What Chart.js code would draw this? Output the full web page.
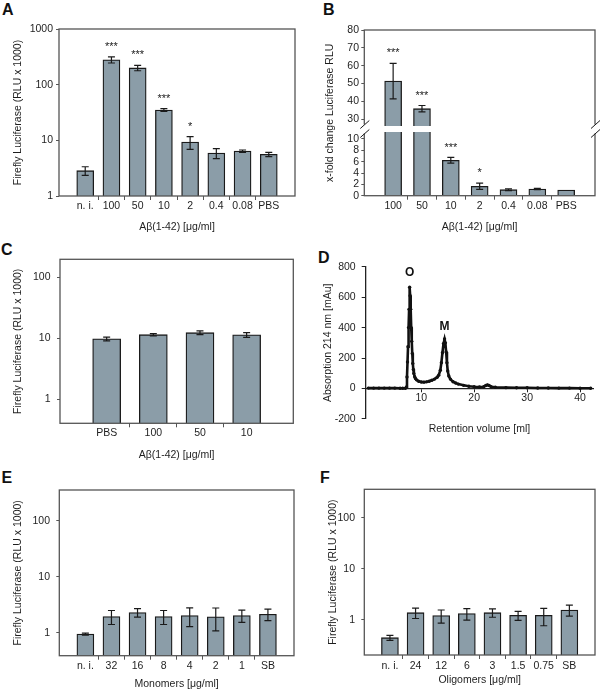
<!DOCTYPE html>
<html>
<head>
<meta charset="utf-8">
<script src="https://cdn.jsdelivr.net/npm/chart.js@4.4.1/dist/chart.umd.min.js"></script>
<style>
  body { margin: 0; background: #fff; width: 600px; height: 690px; position: relative; overflow: hidden; }
  canvas { position: absolute; left: 0; top: 0; }
  .lab { position: absolute; font: bold 16px "Liberation Sans", Arial, sans-serif; line-height: 16px; color: #111; }
</style>
</head>
<body>
<div class="lab" style="left:2px;top:1.5px">A</div>
<div class="lab" style="left:323px;top:2px">B</div>
<div class="lab" style="left:1px;top:241.5px">C</div>
<div class="lab" style="left:318px;top:250px">D</div>
<div class="lab" style="left:1.5px;top:470px">E</div>
<div class="lab" style="left:320px;top:470px">F</div>
<canvas id="chartA" width="600" height="690"></canvas>
<canvas id="chartB" width="600" height="690"></canvas>
<canvas id="chartC" width="600" height="690"></canvas>
<canvas id="chartD" width="600" height="690"></canvas>
<canvas id="chartE" width="600" height="690"></canvas>
<canvas id="chartF" width="600" height="690"></canvas>
<script>
// A: luciferase vs Abeta dose (log)
const catsA = ['n. i.', '100', '50', '10', '2', '0.4', '0.08', 'PBS'];
const valsA = [2.85, 280, 200, 35, 9.3, 5.9, 6.4, 5.6];
const errA = [0.5, 35, 22, 2, 2.4, 1.2, 0.3, 0.5];
const starsA = ['', '***', '***', '***', '*', '', '', ''];
const ticksA = [1, 10, 100, 1000];

// B: x-fold change, broken axis
const catsB = ['100', '50', '10', '2', '0.4', '0.08', 'PBS'];
const valsB = [51.3, 35.8, 6.24, 1.66, 1.06, 1.18, 1.0];
const errB = [10, 1.8, 0.5, 0.55, 0.15, 0.12, 0];
const starsB = ['***', '***', '***', '*', '', '', ''];
const ticksBLow = [0, 2, 4, 6, 8, 10];
const ticksBHigh = [30, 40, 50, 60, 70, 80];

// C
const catsC = ['PBS', '100', '50', '10'];
const valsC = [9.8, 11.5, 12.4, 11.4];
const errC = [0.7, 0.5, 0.9, 1.0];
const ticksC = [1, 10, 100];

// D: chromatogram
const volD = [0, 1, 2, 3, 4, 5, 6, 6.5, 7, 7.2, 7.3, 7.4, 7.5, 7.6, 7.7, 7.8,
  7.9, 8.0, 8.1, 8.2, 8.3, 8.4, 8.5, 8.6, 8.75, 8.9, 9.1, 9.5,
  10, 10.5, 11, 11.5, 12, 12.5, 13, 13.3, 13.6, 13.8, 14.0, 14.2, 14.4, 14.55, 14.7, 14.85, 15.0, 15.2,
  15.5, 16, 16.5, 17, 18, 19, 20, 21, 21.8, 22.2, 22.5, 22.8, 23.2, 24, 26, 28, 30, 32, 34, 36, 38, 40, 42];
const absD = [3, 3, 3, 3, 3, 3, 2, 2, 2, 10, 76, 175, 274, 400, 520, 665,
  610, 520, 400, 310, 230, 165, 125, 99, 78, 66, 57, 48,
  43, 42, 44, 48, 54, 62, 74, 88, 120, 170, 235, 295, 325, 300, 240, 170, 115, 82,
  62, 45, 36, 29, 21, 15, 12, 10, 12, 20, 24, 20, 12, 8, 6, 5, 5, 4, 4, 3, 3, 2, 2];
const ticksDX = [10, 20, 30, 40];
const ticksDY = [-200, 0, 200, 400, 600, 800];
const peakNames = ['O', 'M'];

// E: monomers
const catsE = ['n. i.', '32', '16', '8', '4', '2', '1', 'SB'];
const valsE = [0.95, 1.96, 2.31, 1.96, 2.04, 1.93, 2.04, 2.15];
const errE = [0.04, 0.55, 0.4, 0.55, 0.75, 0.85, 0.5, 0.5];
const ticksE = [1, 10, 100];

// F: oligomers
const catsF = ['n. i.', '24', '12', '6', '3', '1.5', '0.75', 'SB'];
const valsF = [0.45, 1.39, 1.22, 1.33, 1.39, 1.23, 1.23, 1.57];
const errF = [0.05, 0.32, 0.35, 0.34, 0.26, 0.25, 0.46, 0.38];
const ticksF = [1, 10, 100];

const FAMILY = '"Liberation Sans", Arial, Helvetica, sans-serif';
const font = { family: FAMILY, size: 10.5, lineHeight: 1.2 };
const LH = 12.6;
const TXT = '#1e1e1e';
const BAR = '#8b9da8';
const EDGE = '#1a1a1a';
const AXIS = '#555';

function pad(arr, v) { return [v].concat(arr, [v]); }
function setTicks(list) { return (scale) => { scale.ticks = list.map((v) => ({ value: v })); }; }
function fixWidth(w) { return (scale) => { scale.width = w; }; }
function fixHeight(h) { return (scale) => { scale.height = h; }; }

// error bars + significance stars, clipped to the dataset's own y scale
const errorBars = {
  id: 'errorBars',
  afterDatasetsDraw(chart) {
    const ctx = chart.ctx;
    chart.data.datasets.forEach((ds, i) => {
      if (!ds.errors) return;
      const meta = chart.getDatasetMeta(i);
      const ys = meta.yScale;
      ctx.save();
      ctx.beginPath();
      ctx.rect(chart.chartArea.left, ys.top, chart.chartArea.width, ys.bottom - ys.top);
      ctx.clip();
      ctx.strokeStyle = EDGE;
      ctx.lineWidth = 1.2;
      ctx.fillStyle = EDGE;
      ctx.font = '11px ' + FAMILY;
      ctx.textAlign = 'center';
      ctx.textBaseline = 'middle';
      meta.data.forEach((bar, j) => {
        const v = ds.data[j];
        if (v == null) return;
        const e = ds.errors[j];
        const x = bar.x;
        const yTop = ys.getPixelForValue(v + e);
        if (e > 0) {
          const yBot = ys.getPixelForValue(v - e);
          ctx.beginPath();
          ctx.moveTo(x, yTop); ctx.lineTo(x, yBot);
          ctx.moveTo(x - 3.5, yTop); ctx.lineTo(x + 3.5, yTop);
          ctx.moveTo(x - 3.5, yBot); ctx.lineTo(x + 3.5, yBot);
          ctx.stroke();
        }
        const s = ds.stars && ds.stars[j];
        if (s && yTop > ys.top && yTop < ys.bottom) ctx.fillText(s, x, yTop - 10);
      });
      ctx.restore();
    });
  }
};

const frame = {
  id: 'frame',
  afterDatasetsDraw(chart, args, opts) {
    if (!opts.show) return;
    const a = chart.chartArea;
    const ctx = chart.ctx;
    ctx.save();
    ctx.strokeStyle = AXIS;
    ctx.lineWidth = 1.3;
    ctx.strokeRect(a.left, a.top, a.width, a.height);
    ctx.restore();
  }
};

// white gap + "//" marks for the broken axis in B, plus its rotated title
const axisBreak = {
  id: 'axisBreak',
  afterDraw(chart, args, opts) {
    if (!opts.at) return;
    const a = chart.chartArea;
    const ctx = chart.ctx;
    const y = chart.scales[opts.at].bottom;
    ctx.save();
    ctx.fillStyle = '#fff';
    ctx.fillRect(a.left - 1, y - 3, a.width + 2, 6);
    ctx.fillRect(a.left - 2, y - 4.5, 4, 9);
    ctx.fillRect(a.right - 2, y - 4.5, 4, 9);
    ctx.strokeStyle = EDGE;
    ctx.lineWidth = 1;
    [a.left, a.right].forEach((x) => {
      [-4.5, 4.5].forEach((d) => {
        ctx.beginPath();
        ctx.moveTo(x - 4, y + d + 4);
        ctx.lineTo(x + 5, y + d - 4);
        ctx.stroke();
      });
    });
    ctx.translate(opts.titleX, (a.top + a.bottom) / 2);
    ctx.rotate(-Math.PI / 2);
    ctx.fillStyle = TXT;
    ctx.font = '10.5px ' + FAMILY;
    ctx.textAlign = 'center';
    ctx.textBaseline = 'middle';
    ctx.fillText(opts.title, 0, 0);
    ctx.restore();
  }
};

const peakLabels = {
  id: 'peakLabels',
  afterDatasetsDraw(chart, args, opts) {
    if (!opts.items) return;
    const ctx = chart.ctx;
    ctx.save();
    ctx.fillStyle = '#111';
    ctx.font = 'bold 12px ' + FAMILY;
    ctx.textAlign = 'center';
    ctx.textBaseline = 'middle';
    opts.items.forEach((it) => {
      ctx.fillText(it.text, chart.scales.x.getPixelForValue(it.x), chart.scales.y.getPixelForValue(it.y));
    });
    ctx.restore();
  }
};

Chart.register(errorBars, frame, axisBreak, peakLabels);

function xScale(n, p, h) {
  return {
    offset: false,
    grid: {
      offset: true, drawOnChartArea: false, tickLength: 4,
      color: (c) => (c.index >= 2 && c.index <= n ? AXIS : 'rgba(0,0,0,0)')
    },
    border: { display: false },
    ticks: { color: TXT, font: font, padding: p.xPad, maxRotation: 0, autoSkip: false },
    title: { display: true, text: p.xTitle, color: TXT, font: font, padding: 0 },
    afterFit: fixHeight(h)
  };
}

function barChart(id, p) {
  const n = p.cats.length;
  const left = p.titleX - LH / 2;
  const bottom = p.titleY + LH / 2;
  return new Chart(document.getElementById(id), {
    type: 'bar',
    data: {
      labels: pad(p.cats, ''),
      datasets: [{
        data: pad(p.vals, null),
        errors: pad(p.errs, 0),
        stars: p.stars ? pad(p.stars, '') : null,
        backgroundColor: BAR,
        borderColor: EDGE,
        borderWidth: 1.3,
        barThickness: p.barW
      }]
    },
    options: {
      responsive: false,
      animation: false,
      layout: { padding: { left: left, top: p.T, right: 600 - p.R, bottom: 690 - bottom } },
      plugins: { legend: { display: false }, tooltip: { enabled: false }, frame: { show: true } },
      scales: {
        x: xScale(n, p, bottom - p.B),
        y: {
          type: 'logarithmic',
          min: p.min,
          max: p.max,
          afterBuildTicks: setTicks(p.ticks),
          grid: { drawOnChartArea: false, tickLength: 3, color: AXIS },
          border: { display: false },
          ticks: { color: TXT, font: font, padding: p.yPad, autoSkip: false, callback: (v) => String(v) },
          title: { display: true, text: p.yTitle, color: TXT, font: font, padding: 0 },
          afterFit: fixWidth(p.L - left)
        }
      }
    }
  });
}

const ABETA = 'Aβ(1-42) [μg/ml]';
const FIREFLY = 'Firefly Luciferase (RLU x 1000)';

barChart('chartA', {
  cats: catsA, vals: valsA, errs: errA, stars: starsA, ticks: ticksA, min: 1, max: 1000,
  L: 59, T: 29, R: 295, B: 196, titleX: 18, titleY: 227, yPad: 3, xPad: 0, barW: 17,
  yTitle: FIREFLY, xTitle: ABETA
});

barChart('chartC', {
  cats: catsC, vals: valsC, errs: errC, ticks: ticksC, min: 0.4, max: 200,
  L: 60, T: 259.3, R: 293.3, B: 423.3, titleX: 18.3, titleY: 455, yPad: 6.5, xPad: 0, barW: 28,
  yTitle: FIREFLY, xTitle: ABETA
});

barChart('chartE', {
  cats: catsE, vals: valsE, errs: errE, ticks: ticksE, min: 0.39, max: 358,
  L: 59.3, T: 490, R: 294, B: 655.7, titleX: 18.3, titleY: 683.7, yPad: 6.3, xPad: 0, barW: 17,
  yTitle: FIREFLY, xTitle: 'Monomers [μg/ml]'
});

barChart('chartF', {
  cats: catsF, vals: valsF, errs: errF, ticks: ticksF, min: 0.206, max: 363,
  L: 364.3, T: 489.3, R: 595, B: 655, titleX: 333, titleY: 680, yPad: 6.3, xPad: 1, barW: 17,
  yTitle: FIREFLY, xTitle: 'Oligomers [μg/ml]'
});

// B: two stacked y scales make the broken axis
const pB = { L: 364.3, T: 30, R: 595, B: 195.7, titleX: 330, titleY: 227, xPad: 0, xTitle: ABETA };
const leftB = pB.titleX - LH / 2;
const bottomB = pB.titleY + LH / 2;
const barB = {
  backgroundColor: BAR, borderColor: EDGE, borderWidth: 1.3, barThickness: 17, grouped: false
};
new Chart(document.getElementById('chartB'), {
  type: 'bar',
  data: {
    labels: pad(catsB, ''),
    datasets: [
      Object.assign({ data: pad(valsB, null), errors: pad(errB, 0), stars: pad(starsB, ''), yAxisID: 'yHigh' }, barB),
      Object.assign({ data: pad(valsB, null), errors: pad(errB, 0), stars: pad(starsB, ''), yAxisID: 'yLow' }, barB)
    ]
  },
  options: {
    responsive: false,
    animation: false,
    layout: { padding: { left: leftB, top: pB.T, right: 600 - pB.R, bottom: 690 - bottomB } },
    plugins: {
      legend: { display: false }, tooltip: { enabled: false }, frame: { show: true },
      axisBreak: { at: 'yHigh', titleX: pB.titleX, title: 'x-fold change Luciferase RLU' }
    },
    scales: {
      x: xScale(catsB.length, pB, bottomB - pB.B),
      yHigh: {
        type: 'linear', position: 'left', stack: 'b', stackWeight: 99, weight: 1,
        min: 24.4, max: 80,
        afterBuildTicks: setTicks(ticksBHigh),
        grid: { drawOnChartArea: false, tickLength: 3, color: AXIS },
        border: { display: false },
        ticks: { color: TXT, font: font, padding: 2.3, autoSkip: false },
        afterFit: fixWidth(pB.L - leftB)
      },
      yLow: {
        type: 'linear', position: 'left', stack: 'b', stackWeight: 66.7, weight: 0,
        min: 0, max: 11.76,
        afterBuildTicks: setTicks(ticksBLow),
        grid: { drawOnChartArea: false, tickLength: 3, color: AXIS },
        border: { display: false },
        ticks: { color: TXT, font: font, padding: 2.3, autoSkip: false },
        afterFit: fixWidth(pB.L - leftB)
      }
    }
  }
});

// D: chromatogram, x axis crossing at y = 0
const leftD = 328 - LH / 2;
const bottomD = 429.3 + LH / 2;
new Chart(document.getElementById('chartD'), {
  type: 'line',
  data: {
    datasets: [{
      data: volD.map((v, i) => ({ x: v, y: absD[i] })),
      borderColor: '#111',
      borderWidth: 2.6,
      pointRadius: 1.7,
      pointBackgroundColor: '#111',
      pointBorderWidth: 0,
      tension: 0
    }]
  },
  options: {
    responsive: false,
    animation: false,
    layout: { padding: { left: leftD, top: 266.7, right: 600 - 593.3, bottom: 690 - bottomD } },
    plugins: {
      legend: { display: false }, tooltip: { enabled: false },
      peakLabels: { items: [{ text: peakNames[0], x: 7.8, y: 760 }, { text: peakNames[1], x: 14.4, y: 405 }] }
    },
    scales: {
      x: {
        type: 'linear', min: -0.5, max: 42.5, position: { y: 0 },
        afterBuildTicks: setTicks(ticksDX),
        grid: { drawOnChartArea: false, tickLength: 3, color: '#222' },
        border: { display: true, color: '#222', width: 1.3 },
        ticks: { color: TXT, font: font, padding: 0, autoSkip: false }
      },
      x2: {
        type: 'linear', min: -0.5, max: 42.5, position: 'bottom',
        grid: { display: false }, border: { display: false }, ticks: { display: false },
        title: { display: true, text: 'Retention volume [ml]', color: TXT, font: font, padding: 0 },
        afterFit: fixHeight(bottomD - 419)
      },
      y: {
        type: 'linear', min: -200, max: 800,
        afterBuildTicks: setTicks(ticksDY),
        grid: { drawOnChartArea: false, tickLength: 4, color: '#222' },
        border: { display: true, color: '#222', width: 1.3 },
        ticks: { color: TXT, font: font, padding: 6, autoSkip: false },
        title: { display: true, text: 'Absorption 214 nm [mAu]', color: TXT, font: font, padding: 0 },
        afterFit: fixWidth(365.7 - leftD)
      }
    }
  }
});
</script>
</body>
</html>
